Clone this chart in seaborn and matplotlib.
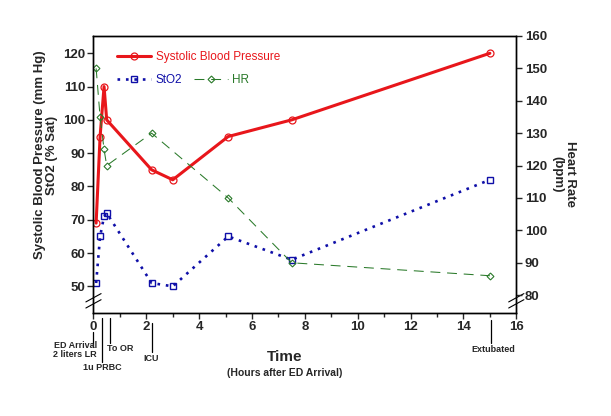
import numpy as np
import pandas as pd
import matplotlib
matplotlib.use("Agg")
import matplotlib.pyplot as plt
import matplotlib.transforms as mtransforms
import seaborn as sns

# ---- data ----
sbp_time = [0.1, 0.25, 0.4, 0.5, 2.2, 3.0, 5.1, 7.5, 15.0]
sbp_vals = [69, 95, 110, 100, 85, 82, 95, 100, 120]

sto2_time = [0.1, 0.25, 0.4, 0.5, 2.2, 3.0, 5.1, 7.5, 15.0]
sto2_vals = [51, 65, 71, 72, 51, 50, 65, 58, 82]

hr_time = [0.1, 0.25, 0.4, 0.5, 2.2, 5.1, 7.5, 15.0]
hr_vals = [150, 135, 125, 120, 130, 110, 90, 86]

event_times = [0.0, 0.33, 0.62, 2.2, 15.05]
event_labels = ["ED Arrival\n2 liters LR", "1u PRBC", "To OR", "ICU", "Extubated"]

red = "#e8161b"
blue = "#0f0fa8"
green = "#2a7a2a"

sns.set_style("ticks")
plt.rcParams["font.family"] = ["Liberation Sans", "DejaVu Sans"]

fig = plt.figure(figsize=(6.11, 4.16), dpi=100)
ax = fig.add_axes([0.153, 0.2476, 0.692, 0.666])
ax2 = ax.twinx()

# ---- series ----
sns.lineplot(x=sbp_time, y=sbp_vals, ax=ax, color=red, lw=2.2, marker="o",
             markersize=5, markerfacecolor="none", markeredgecolor=red,
             markeredgewidth=0.9, sort=False, label="Systolic Blood Pressure",
             legend=False)
sns.lineplot(x=sto2_time, y=sto2_vals, ax=ax, color=blue, lw=1.9, marker="s",
             markersize=4.5, markerfacecolor="none", markeredgecolor=blue,
             markeredgewidth=1.0, sort=False, label="StO2", legend=False)
ax.lines[-1].set_dashes([1, 2.2])
sns.lineplot(x=hr_time, y=hr_vals, ax=ax2, color=green, lw=0.75, marker="D",
             markersize=3.5, markerfacecolor="none", markeredgecolor=green,
             markeredgewidth=0.8, sort=False, label="HR", legend=False)
ax2.lines[-1].set_dashes([9.5, 6.5])

# ---- axes ----
ax.set_xlim(0, 16)
ax.set_ylim(42, 125.2)
ax2.set_ylim(74.5, 160)
ax.set_xticks(np.arange(0, 17, 2))
ax.set_xticks(np.arange(1, 17, 2), minor=True)
ax.set_yticks(np.arange(50, 121, 10))
ax2.set_yticks(np.arange(80, 161, 10))
for a in (ax, ax2):
    for s in a.spines.values():
        s.set_visible(True)
        s.set_linewidth(1.0)
        s.set_color("black")
    a.tick_params(direction="out", length=4, width=1, labelsize=9.5, pad=2)
    for lab in a.get_xticklabels() + a.get_yticklabels():
        lab.set_fontweight("bold")
ax.tick_params(axis="x", which="minor", direction="out", length=3, width=1)
ax.set_xlabel("")

ax.set_ylabel("Systolic Blood Pressure (mm Hg)\nStO2 (% Sat)", fontsize=9.5,
              fontweight="bold", linespacing=1.0)
ax.yaxis.set_label_coords(-0.083, 0.57)
ax2.set_ylabel("Heart Rate\n(bpm)", fontsize=9.5, fontweight="bold",
               rotation=270, linespacing=1.0, va="center")
ax2.yaxis.set_label_coords(1.112, 0.5)

ax.text(0.453, -0.159, "Time", transform=ax.transAxes, ha="center",
        va="center", fontsize=11, fontweight="bold")
ax.text(0.453, -0.218, "(Hours after ED Arrival)", transform=ax.transAxes,
        ha="center", va="center", fontsize=7.5, fontweight="bold")

# ---- axis breaks ----
for xa in (0.0, 1.0):
    for dy in (0.0, 0.022):
        ax.plot([xa - 0.018, xa + 0.018], [0.018 + dy, 0.048 + dy],
                transform=ax.transAxes, color="black", lw=0.8, clip_on=False)

# ---- event markers below the x axis ----
trans = mtransforms.blended_transform_factory(ax.transData, ax.transAxes)
line_spans = [(-0.067, -0.121), (-0.018, -0.177), (-0.018, -0.108),
              (-0.036, -0.14), (-0.025, -0.108)]
text_pos = [(0.12, -0.10, "right"), (0.34, -0.18, "center"),
            (0.5, -0.113, "left"), (2.18, -0.147, "center"),
            (15.13, -0.115, "center")]
for t, (y0, y1), (tx, ty, ha), lab in zip(event_times, line_spans, text_pos,
                                         event_labels):
    ax.plot([t, t], [y0, y1], transform=trans, color="black", lw=0.9,
            clip_on=False)
    ax.text(tx, ty, lab, transform=trans, ha=ha, va="top", fontsize=6.5,
            fontweight="bold", linespacing=1.05)

# ---- legends ----
h_sbp = ax.lines[0]
h_sto2 = ax.lines[1]
h_hr = ax2.lines[0]
leg1 = ax2.legend([h_sbp], ["Systolic Blood Pressure"], loc="center left",
                  bbox_to_anchor=(0.056, 0.924), frameon=False, fontsize=8.5,
                  handlelength=2.9, handletextpad=0.35, borderpad=0,
                  borderaxespad=0, labelcolor=[red])
ax2.add_artist(leg1)
ax2.legend([h_sto2, h_hr], ["StO2", "HR"], loc="center left",
           bbox_to_anchor=(0.056, 0.841), frameon=False, fontsize=8.5, ncol=2,
           handlelength=2.9, handletextpad=0.35, columnspacing=1.0,
           borderpad=0, borderaxespad=0, labelcolor=[blue, green])

fig.savefig("out.png", dpi=100)
